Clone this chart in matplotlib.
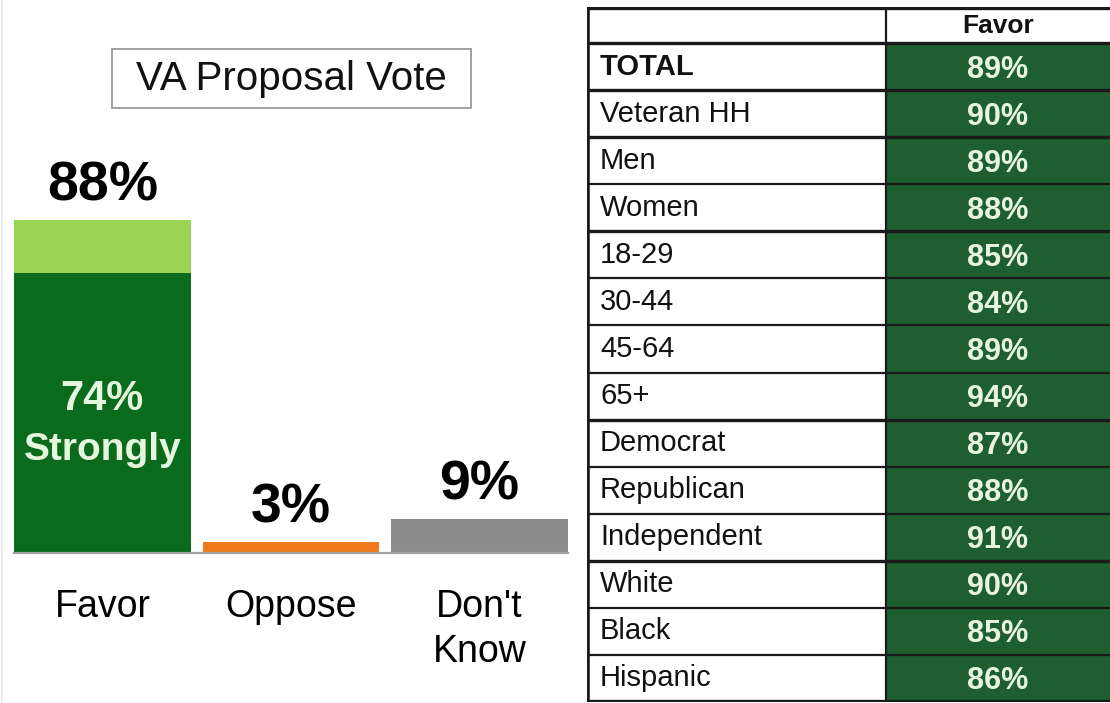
import matplotlib
matplotlib.use('Agg')
import matplotlib.pyplot as plt
from matplotlib.patches import Rectangle
from matplotlib.lines import Line2D

plt.rcParams['font.family'] = ['Liberation Sans', 'DejaVu Sans']

# ---------------- data ----------------
categories = ['Favor', 'Oppose', "Don't\nKnow"]
values = [88, 3, 9]
strongly = 74
chart_title = 'VA Proposal Vote'

table_header = 'Favor'
groups = ['TOTAL', 'Veteran HH', 'Men', 'Women', '18-29', '30-44', '45-64',
          '65+', 'Democrat', 'Republican', 'Independent', 'White', 'Black',
          'Hispanic']
favor = [89, 90, 89, 88, 85, 84, 89, 94, 87, 88, 91, 90, 85, 86]
group_ends = [0, 1, 3, 7, 10]   # rows closing a group (thicker rule below)

# ---------------- style ----------------
DARK = '#0a6b1c'
LIGHT = '#9ad653'
ORANGE = '#ef7b1c'
GRAY = '#8c8c8c'
TGREEN = '#1f5e2e'
TTEXT = '#e6f6de'

W, H = 1110, 703
fig = plt.figure(figsize=(W / 100, H / 100), dpi=100)
fig.patch.set_facecolor('white')

# faint left border of the original slide
fig.add_artist(Line2D([2 / W, 2 / W], [0, 1], transform=fig.transFigure,
                      color='#ececec', lw=1.5))

# ---------------- bar chart ----------------
base_px = 553
ax = fig.add_axes([8 / W, (H - base_px) / H, 566 / W, (base_px - 8) / H])
scale = 333 / 88.0  # px per percentage point
ax.set_xlim(-0.5, 2.5)
ax.set_ylim(0, (base_px - 8) / scale)
bw = 0.935
ax.bar(0, strongly, width=bw, color=DARK, zorder=2)
ax.bar(0, values[0] - strongly, bottom=strongly, width=bw, color=LIGHT, zorder=2)
ax.bar(1, values[1], width=bw, color=ORANGE, zorder=2)
ax.bar(2, values[2], width=bw, color=GRAY, zorder=2)

for i, v in enumerate(values):
    ax.annotate(f'{v}%', (i, v), xytext=(0, 14), textcoords='offset points',
                ha='center', va='baseline', fontsize=40, fontweight='bold',
                color='black')

ax.annotate(f'{strongly}%', (0, strongly / 2), xytext=(0, 10),
            textcoords='offset points', ha='center', va='center',
            fontsize=30, fontweight='bold', color=TTEXT)
ax.annotate('Strongly', (0, strongly / 2), xytext=(0, -27),
            textcoords='offset points', ha='center', va='center',
            fontsize=28, fontweight='bold', color=TTEXT)

ax.set_xticks(range(len(categories)))
ax.set_xticklabels(categories, fontsize=27, linespacing=1.32)
ax.tick_params(axis='x', length=0, pad=26)
ax.set_yticks([])
for s in ['top', 'right', 'left']:
    ax.spines[s].set_visible(False)
ax.spines['bottom'].set_color('#a0a0a0')
ax.spines['bottom'].set_linewidth(1.6)
ax.spines['bottom'].set_bounds(-0.47, 2.47)
ax.set_facecolor('none')

# title box
fig.add_artist(Rectangle((112 / W, (H - 108) / H), 359 / W, 59 / H,
                         transform=fig.transFigure, fill=False,
                         ec='#9a9a9a', lw=1.3))
fig.text(291 / W, (H - 79) / H, chart_title, ha='center', va='center',
         fontsize=29, color='#111111')

# ---------------- table ----------------
tx0, tx1, ty0, ty1 = 587, 1110, 7, 702
tax = fig.add_axes([tx0 / W, (H - ty1) / H, (tx1 - tx0) / W, (ty1 - ty0) / H])
tax.set_xlim(tx0, tx1)
tax.set_ylim(ty1, ty0)
tax.axis('off')

div_x = 886
head_bot = 43
n = len(groups)
rh = (ty1 - head_bot) / n

for i, (g, v) in enumerate(zip(groups, favor)):
    top = head_bot + i * rh
    tax.add_patch(Rectangle((div_x, top), tx1 - div_x, rh, color=TGREEN,
                            lw=0, zorder=1))
    tax.text(600, top + rh / 2, g, ha='left', va='center', fontsize=21,
             fontweight='bold' if g == 'TOTAL' else 'normal',
             color='#111111', zorder=3)
    tax.text(998, top + rh / 2 + 3, f'{v}%', ha='center', va='center',
             fontsize=22, fontweight='bold', color=TTEXT, zorder=3)

tax.text(998, (ty0 + head_bot) / 2 + 1, table_header, ha='center',
         va='center', fontsize=19, fontweight='bold', color='#111111')

# rules
tax.plot([tx0, tx1], [ty0 + 1, ty0 + 1], color='#1a1a1a', lw=2.4, zorder=4)
tax.plot([tx0, tx1], [head_bot, head_bot], color='#1a1a1a', lw=2.4, zorder=4)
for i in range(n - 1):
    y = head_bot + (i + 1) * rh
    lw = 2.4 if i in group_ends else 1.6
    tax.plot([tx0, tx1], [y, y], color='#1a1a1a', lw=lw, zorder=4)
tax.plot([tx0, tx1], [ty1 - 1, ty1 - 1], color='#1a1a1a', lw=2.4, zorder=4)
tax.plot([tx0 + 1, tx0 + 1], [ty0, ty1], color='#1a1a1a', lw=2.6, zorder=4)
tax.plot([div_x, div_x], [ty0, ty1], color='#1a1a1a', lw=1.6, zorder=4)

fig.savefig('out.png', dpi=100, facecolor='white')
